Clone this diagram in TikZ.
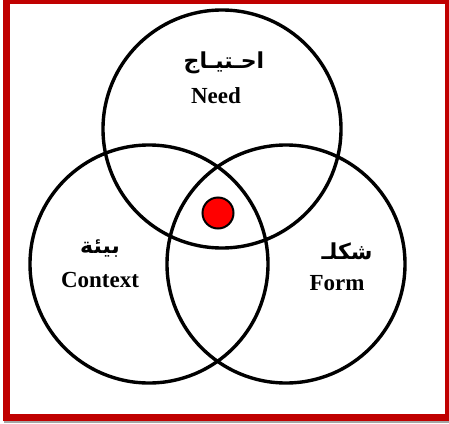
\documentclass[tikz,border=0pt]{standalone}
\usepackage{fontspec}
\setmainfont{Liberation Serif}
\newfontfamily\arabicfont[Script=Arabic]{DejaVu Sans}
\TeXXeTstate=1
\usetikzlibrary{positioning}
\definecolor{framered}{HTML}{C00000}
\definecolor{dotred}{HTML}{FF0000}

\begin{document}
\begin{tikzpicture}[x=1pt,y=-1pt]
  \tikzset{
    ring/.style={draw=black, circle, line width=3.4pt, minimum size=238pt, inner sep=0pt},
    arlabel/.style={font=\arabicfont\bfseries\fontsize{22}{22}\selectfont, inner sep=0pt},
    enlabel/.style={font=\bfseries\fontsize{23}{23}\selectfont, inner sep=0pt},
    hub/.style={draw=black, fill=dotred, circle, line width=2pt, minimum size=31pt, inner sep=0pt}
  }
  \useasboundingbox (0,0) rectangle (449,423);

  % Shadow and frame
  \fill[black!35] (4,5) rectangle (449,423);
  \fill[white] (6,0) rectangle (448.5,417);
  \draw[framered, line width=7pt] (6,0) rectangle (448.5,417);

  % Circles
  \def\xN{222} \def\yN{129}
  \def\xC{149} \def\yC{264}
  \def\xF{286} \def\yF{264}
  \node[ring] (needc) at (\xN,\yN) {};
  \node[ring] (contextc) at (\xC,\yC) {};
  \node[ring] (formc) at (\xF,\yF) {};

  % Centre
  \node[hub] (core) at (218,213) {};

  % Labels
  \node[arlabel] (needar) at (224,63) {\beginR احـتيـاج\endR};
  \node[enlabel] (needen) at (216,96) {Need};
  \node[arlabel] (contextar) at (100,249) {\beginR بيئة\endR};
  \node[enlabel] (contexten) at (100,280) {Context};
  \node[arlabel] (formar) at (347,251) {\beginR شكلـ\endR};
  \node[enlabel] (formen) at (337,283) {Form};
\end{tikzpicture}
\end{document}
